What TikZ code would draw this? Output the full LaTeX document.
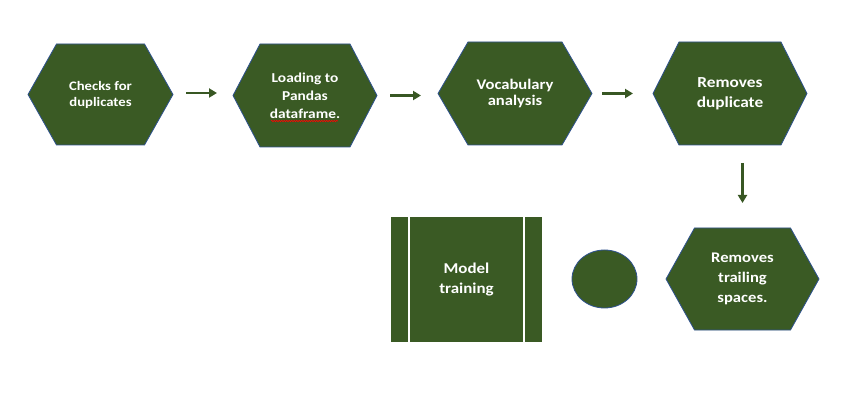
\documentclass[tikz,border=0pt]{standalone}
\usepackage{fontspec}
\setmainfont{Carlito}[FakeStretch=1.13]
\usetikzlibrary{shapes.geometric,arrows.meta,decorations.pathmorphing,calc}
\definecolor{gfill}{HTML}{3A5A24}
\definecolor{gline}{HTML}{2F528F}
\definecolor{garrow}{HTML}{385723}
\tikzset{
  hexfill/.style={fill=gfill, draw=gline, line width=0.8pt, line join=miter},
  hextext/.style={rectangle, text=white, align=center, inner sep=0pt, outer sep=0pt},
  arr/.style={draw=garrow, line width=2.6pt, -{Triangle[length=8pt,width=9pt]}},
}
% name, cx, cy, w, h, xsep, font, text
\newcommand\hexnode[8]{%
  \path[hexfill] (#2-#4/2,#3) -- (#2-#4/2+#6,#3-#5/2) -- (#2+#4/2-#6,#3-#5/2)
    -- (#2+#4/2,#3) -- (#2+#4/2-#6,#3+#5/2) -- (#2-#4/2+#6,#3+#5/2) -- cycle;
  \node[hextext, minimum width=#4pt, minimum height=#5pt, font=#7] (#1) at (#2,#3) {#8};}
\begin{document}
\begin{tikzpicture}[x=1pt,y=-1pt]
\useasboundingbox (0,0) rectangle (860,414);
\hexnode{h1}{100.5}{94.5}{145}{101}{28.5}{\fontsize{13}{16}\selectfont\bfseries}{Checks for\\duplicates}
\hexnode{h2}{305}{95.5}{144}{103}{27}{\fontsize{13.6}{17.8}\selectfont\bfseries}{Loading to\\Pandas\\dataframe.}
\hexnode{h3}{515}{93.5}{154}{103}{30}{\fontsize{14.7}{16.5}\selectfont\bfseries}{Vocabulary\\analysis}
\hexnode{h4}{730}{93.5}{154}{103}{26}{\fontsize{15.3}{19.5}\selectfont\bfseries}{Removes\\duplicate}
\hexnode{h5}{742.5}{279}{153}{102}{28.5}{\fontsize{14.7}{20}\selectfont\bfseries}{Removes\\trailing\\spaces.}
\node[rectangle, fill=gfill, text=white, align=center, inner sep=0pt, outer sep=0pt,
  minimum width=151pt, minimum height=125pt,
  font=\fontsize{15}{19.5}\selectfont\bfseries] (m) at (466.5,279.5) {Model\\training};
\draw[white, line width=2pt] ([xshift=18.3pt]m.north west) -- ([xshift=18.3pt]m.south west);
\draw[white, line width=2pt] ([xshift=-18.3pt]m.north east) -- ([xshift=-18.3pt]m.south east);
\node[ellipse, fill=gfill, draw=gline, line width=0.8pt, inner sep=0pt,
  minimum width=65pt, minimum height=58pt] (c) at (604.5,279) {};
\draw[arr, shorten <=13pt, shorten >=16pt] ([yshift=1.5pt]h1.east) -- ([yshift=1.5pt]h1.east -| h2.west);
\draw[arr, shorten <=13pt, shorten >=17pt] (h2.east) -- (h2.east -| h3.west);
\draw[arr, shorten <=10pt, shorten >=20pt] (h3.east) -- (h3.east -| h4.west);
\draw[arr, shorten <=18pt, shorten >=25pt] (h4.south -| h5.north) -- (h5.north);
\draw[red, line width=0.6pt, decorate, decoration={snake, amplitude=0.7pt, segment length=2.5pt}]
  ($(h2.center)+(-34,25.5)$) -- ($(h2.center)+(33,25.5)$);
\end{tikzpicture}
\end{document}
